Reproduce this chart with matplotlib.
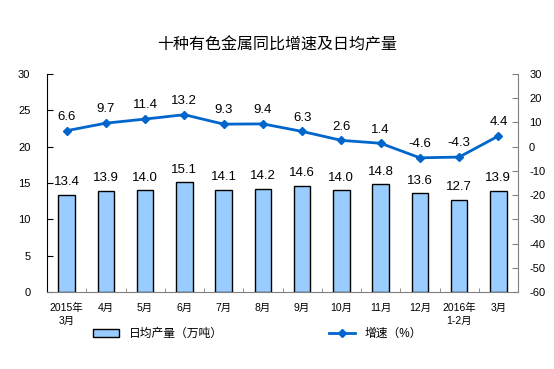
import numpy as np
import matplotlib.pyplot as plt

plt.rcParams['font.family'] = ['Liberation Sans', 'Noto Sans CJK SC', 'DejaVu Sans']
plt.rcParams['axes.unicode_minus'] = False

# 数据
months = ["2015年\n3月", "4月", "5月", "6月", "7月", "8月", "9月",
          "10月", "11月", "12月", "2016年\n1-2月", "3月"]
output = [13.4, 13.9, 14.0, 15.1, 14.1, 14.2, 14.6, 14.0, 14.8, 13.6, 12.7, 13.9]
growth = [6.6, 9.7, 11.4, 13.2, 9.3, 9.4, 6.3, 2.6, 1.4, -4.6, -4.3, 4.4]

fig = plt.figure(figsize=(5.54, 3.69), dpi=100)
ax = fig.add_axes([47/554, 1 - 292/369, 471/554, 218/369])
ax2 = ax.twinx()

x = np.arange(len(months))
bars = ax.bar(x, output, width=0.42, color='#99CCFF', edgecolor='black',
              linewidth=1.0, label='日均产量（万吨）', zorder=2)
for xi, v in zip(x, output):
    ax.text(xi, v + 0.9, f"{v:.1f}", ha='center', va='bottom', fontsize=9.5)

ax.set_xlim(-0.5, len(months) - 0.5)
ax.set_ylim(0, 30)
ax.set_yticks(range(0, 31, 5))
ax.set_xticks(x)
ax.set_xticklabels(months, fontsize=7.5, linespacing=1.3)
ax.set_xticks(np.arange(-0.5, len(months), 1), minor=True)
ax.tick_params(axis='x', which='major', length=0, pad=8)
ax.tick_params(axis='x', which='minor', direction='in', length=3, color='#808080')
ax.tick_params(axis='y', direction='in', length=4, labelsize=8, pad=12)
ax.spines['top'].set_visible(False)
ax.spines['right'].set_visible(False)
ax.spines['bottom'].set_color('#808080')

line, = ax2.plot(x, growth, color='#0066CC', marker='D', markersize=4.5,
                 linewidth=2, label='增速（%）', zorder=3)
for xi, v in zip(x, growth):
    ax2.text(xi, v + 3.2, f"{v:.1f}", ha='center', va='bottom', fontsize=9.5)
ax2.set_ylim(-60, 30)
ax2.set_yticks(range(-60, 31, 10))
ax2.tick_params(axis='y', direction='in', length=4, labelsize=8, pad=8,
                color='#808080')
ax2.spines['top'].set_visible(False)
ax2.spines['left'].set_visible(False)
ax2.spines['bottom'].set_visible(False)
ax2.spines['right'].set_color('#808080')

fig.text(0.5, 1 - 45/369, "十种有色金属同比增速及日均产量", ha='center', va='center',
         fontsize=11.5)

fig.legend([bars, line], ['日均产量（万吨）', '增速（%）'], loc='center',
           bbox_to_anchor=(0.465, 1 - 334/369), ncol=2, frameon=False,
           fontsize=8.5, columnspacing=9, handlelength=2.2)

fig.savefig('out.png', dpi=100)
